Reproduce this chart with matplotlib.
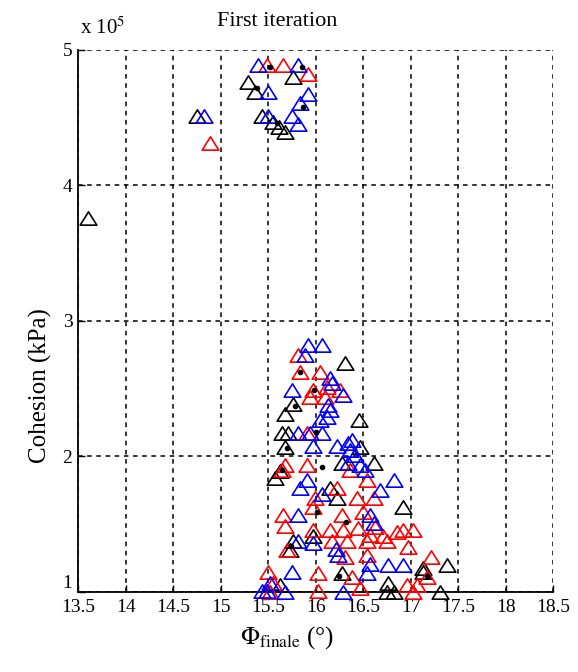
import matplotlib
matplotlib.use("Agg")
import matplotlib.pyplot as plt
from matplotlib.path import Path

plt.rcParams['font.family'] = ['Liberation Serif', 'DejaVu Serif']
plt.rcParams['mathtext.fontset'] = 'stix'

# cohesion in units of 1e5 kPa, phi in degrees
black_phi = [13.6, 14.75, 15.29, 15.36, 15.76, 15.44, 15.55, 15.61, 15.68,
             16.31, 16.46, 15.76, 15.68, 15.65, 15.71, 15.68, 16.47, 15.63, 15.57,
             16.28, 16.61, 16.15, 16.23, 16.92, 15.97, 15.76, 15.73, 17.38, 17.13,
             16.28, 17.13, 15.63, 16.76, 16.75, 16.82, 17.31]
black_c = [3.76, 4.51, 4.76, 4.69, 4.80, 4.51, 4.47, 4.43, 4.39,
           2.69, 2.27, 2.39, 2.31, 2.17, 2.17, 2.07, 2.07, 1.89, 1.84,
           1.95, 1.95, 1.77, 1.69, 1.63, 1.41, 1.38, 1.31, 1.20, 1.18,
           1.14, 1.15, 1.05, 1.07, 1.00, 1.00, 1.00]

red_phi = [14.89, 15.49, 15.66, 15.92,
           15.82, 15.84, 16.05, 15.97, 16.12, 16.26, 15.94, 16.10, 15.91, 15.65,
           15.68, 15.91, 16.36, 16.54, 16.23, 15.99, 16.44, 16.61, 15.97, 15.66,
           16.28, 16.50, 15.68, 16.63, 15.97, 16.15, 16.29, 16.45, 16.57, 16.71,
           16.92, 17.02, 16.86, 16.17, 16.33, 16.54, 16.75, 16.97, 15.70, 16.31,
           16.54, 17.21, 15.50, 16.03, 16.38, 17.17, 15.55, 16.03, 16.47, 16.96,
           17.07, 17.02, 15.52]
red_c = [4.31, 4.89, 4.89, 4.82,
         2.75, 2.62, 2.62, 2.49, 2.51, 2.49, 2.44, 2.44, 2.17, 1.90,
         1.94, 1.94, 1.90, 1.83, 1.77, 1.69, 1.69, 1.69, 1.63, 1.57,
         1.57, 1.59, 1.49, 1.48, 1.46, 1.46, 1.46, 1.47, 1.42, 1.41,
         1.46, 1.46, 1.44, 1.38, 1.38, 1.38, 1.38, 1.33, 1.31, 1.26,
         1.27, 1.26, 1.15, 1.14, 1.11, 1.11, 1.07, 1.01, 1.03, 1.05,
         1.05, 1.00, 1.00]

blue_phi = [14.83, 15.39, 15.82, 15.50, 15.92, 15.84, 15.50, 15.75, 15.82,
            15.92, 16.07, 15.89, 15.75, 16.15, 16.17, 16.29, 16.13, 16.15, 16.12,
            16.05, 15.81, 15.94, 16.07, 15.97, 16.23, 16.34, 16.36, 16.42, 16.38,
            16.47, 16.34, 16.52, 15.91, 15.84, 16.82, 16.07, 16.68, 15.82, 16.57,
            16.61, 15.82, 15.97, 16.21, 16.24, 16.57, 16.76, 16.92, 15.75, 16.54,
            15.52, 15.44, 15.49, 15.68, 16.29]
blue_c = [4.51, 4.89, 4.89, 4.69, 4.67, 4.61, 4.51, 4.51, 4.45,
          2.82, 2.82, 2.75, 2.49, 2.58, 2.54, 2.45, 2.38, 2.34, 2.29,
          2.27, 2.17, 2.17, 2.17, 2.08, 2.08, 2.10, 2.05, 2.01, 2.12,
          1.94, 1.95, 1.90, 1.83, 1.77, 1.83, 1.72, 1.75, 1.57, 1.57,
          1.51, 1.38, 1.36, 1.32, 1.27, 1.21, 1.20, 1.20, 1.15, 1.14,
          1.07, 1.01, 1.01, 1.00, 1.00]

dot_phi = [15.52, 15.86, 15.38, 15.59, 15.87, 15.84, 15.98, 15.78, 16.0,
           15.70, 15.65, 16.07, 15.74, 16.32, 16.02, 17.17, 16.25]
dot_c = [4.87, 4.87, 4.72, 4.46, 4.58, 2.62, 2.49, 2.37, 2.18,
         2.06, 1.90, 1.92, 1.34, 1.52, 1.59, 1.12, 1.12]

xticks = [13.5, 14, 14.5, 15, 15.5, 16, 16.5, 17, 17.5, 18, 18.5]
xticklabels = ['13.5', '14', '14.5', '15', '15.5', '16', '16.5', '17', '17.5', '18', '18.5']
yticks = [1, 2, 3, 4, 5]
yticklabels = ['1', '2', '3', '4', '5']

tri = Path([(0, 0.8), (-1, -0.8), (1, -0.8), (0, 0.8)],
           [Path.MOVETO, Path.LINETO, Path.LINETO, Path.CLOSEPOLY])

fig = plt.figure(figsize=(5.78, 6.72), dpi=100)
ax = fig.add_axes([0.135, 0.119, 0.822, 0.807])

for phi, c, col in [(black_phi, black_c, 'black'), (red_phi, red_c, '#ff0000'),
                    (blue_phi, blue_c, '#0000ff')]:
    ax.plot(phi, c, linestyle='none', marker=tri, markersize=12,
            markerfacecolor='none', markeredgecolor=col, markeredgewidth=1.2,
            clip_on=False, zorder=3)
ax.plot(dot_phi, dot_c, linestyle='none', marker='o', markersize=3,
        color='black', clip_on=False, zorder=4)

ax.set_xlim(13.5, 18.5)
ax.set_ylim(1, 5)
ax.set_xticks(xticks)
ax.set_xticklabels(xticklabels)
ax.set_yticks(yticks)
ax.set_yticklabels(yticklabels)
ax.tick_params(direction='in', length=5, width=1, labelsize=14, pad=4)
ax.tick_params(axis='x', pad=5)
ax.get_yticklabels()[0].set_va('bottom')
ax.grid(True, color='black', linestyle=(0, (3, 3)), linewidth=1.1)
for s in ['top', 'right']:
    ax.spines[s].set_visible(False)
for s in ['left', 'bottom']:
    ax.spines[s].set_linewidth(1.3)

ax.set_title('First iteration', fontsize=16, x=0.42, pad=17)
ax.set_ylabel('Cohesion (kPa)', fontsize=18)
ax.yaxis.set_label_coords(-0.055, 0.38)
ax.set_xlabel(r'$\Phi_{\mathrm{finale}}$ (°)', fontsize=18)
ax.xaxis.set_label_coords(0.44, -0.06)
ax.text(0.005, 1.02, r'x 10$^5$', transform=ax.transAxes, fontsize=15,
        ha='left', va='bottom')

fig.savefig('out.png', dpi=100)
